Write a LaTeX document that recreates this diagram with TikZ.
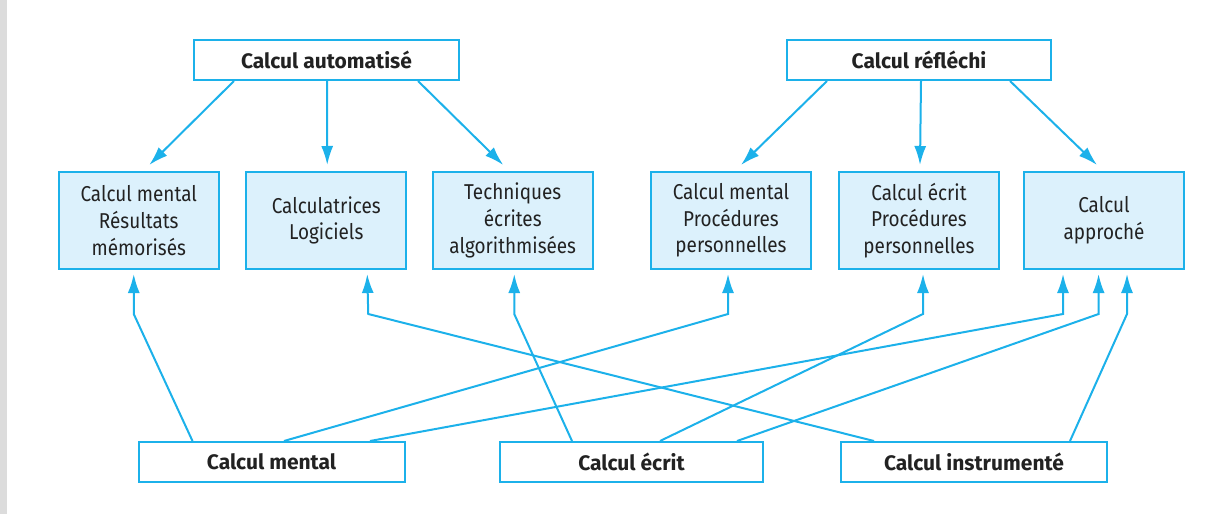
\documentclass[tikz,border=0pt]{standalone}
\usepackage{fontspec}
\setmainfont{Fira Sans}
\newfontfamily\boxfont{Fira Sans}[FakeStretch=0.88]
\usetikzlibrary{arrows.meta,calc}
\definecolor{lineblue}{HTML}{1CB1EA}
\definecolor{boxfill}{HTML}{DCF1FC}
\definecolor{txt}{HTML}{222222}
\definecolor{sidebar}{HTML}{DCDCDC}
\tikzset{
  headbox/.style={draw=lineblue, line width=2pt, fill=white, inner sep=0pt,
    minimum height=40pt, text=txt, font=\fontsize{21}{26}\selectfont\bfseries},
  subbox/.style={draw=lineblue, line width=2pt, fill=boxfill, inner sep=0pt,
    minimum width=160pt, minimum height=97pt, text=txt, align=center,
    font=\fontsize{21.5}{26.7}\selectfont\boxfont},
  conn/.style={draw=lineblue, line width=2pt, -{Latex[length=19pt,width=12pt]}}
}
\begin{document}
\begin{tikzpicture}[x=1pt,y=-1pt]
\useasboundingbox (0,0) rectangle (1216,514);
\fill[sidebar] (0,0) rectangle (7,514);
% top heads
\node[headbox, minimum width=265pt] (auto) at (326.5,60) {Calcul automatisé};
\node[headbox, minimum width=264pt] (refl) at (919,60) {Calcul réfléchi};
% middle boxes
\node[subbox] (A1) at (138.75,220.5) {Calcul mental\\Résultats\\mémorisés};
\node[subbox] (A2) at (326.25,220.5) {Calculatrices\\Logiciels};
\node[subbox] (A3) at (512.75,220.5) {Techniques\\écrites\\algorithmisées};
\node[subbox] (B1) at (731,220.5) {Calcul mental\\Procédures\\personnelles};
\node[subbox] (B2) at (919,220.5) {Calcul écrit\\Procédures\\personnelles};
\node[subbox] (B3) at (1104,220.5) {Calcul\\approché};
% bottom heads
\node[headbox, minimum width=266pt] (CM) at (271.5,462) {Calcul mental};
\node[headbox, minimum width=263pt] (CE) at (631.5,462) {Calcul écrit};
\node[headbox, minimum width=266pt] (CI) at (974,462) {Calcul instrumenté};
% top arrows
\draw[conn] ($(auto.south west)+(41,0)$) -- ($(A1.north west)+(91.5,-6)$);
\draw[conn] ($(auto.south west)+(134,0)$) -- ($(A2.north west)+(82,-6)$);
\draw[conn] ($(auto.south west)+(225,0)$) -- ($(A3.north west)+(71.5,-6)$);
\draw[conn] ($(refl.south west)+(41,0)$) -- ($(B1.north west)+(91,-6)$);
\draw[conn] ($(refl.south west)+(135,0)$) -- ($(B2.north west)+(82,-6)$);
\draw[conn] ($(refl.south west)+(224,0)$) -- ($(B3.north west)+(74,-6)$);
% bottom arrows
\draw[conn] ($(CM.north west)+(55,0)$) -- ($(A1.south west)+(76,44)$) -- ($(A1.south west)+(76,4)$);
\draw[conn] ($(CI.north west)+(34,0)$) -- ($(A2.south west)+(123,44)$) -- ($(A2.south west)+(122,4)$);
\draw[conn] ($(CE.north west)+(73,0)$) -- ($(A3.south west)+(82.5,44)$) -- ($(A3.south west)+(82.5,4)$);
\draw[conn] ($(CM.north west)+(146.5,0)$) -- ($(B1.south west)+(78,44)$) -- ($(B1.south west)+(78,4)$);
\draw[conn] ($(CM.north west)+(232.5,0)$) -- ($(B3.south west)+(40,44)$) -- ($(B3.south west)+(40,4)$);
\draw[conn] ($(CE.north west)+(161,0)$) -- ($(B2.south west)+(85,44)$) -- ($(B2.south west)+(85,4)$);
\draw[conn] ($(CE.north west)+(238,0)$) -- ($(B3.south west)+(75.6,44)$) -- ($(B3.south west)+(75.6,4)$);
\draw[conn] ($(CI.north west)+(230,0)$) -- ($(B3.south west)+(104,44)$) -- ($(B3.south west)+(104,4)$);
\end{tikzpicture}
\end{document}
